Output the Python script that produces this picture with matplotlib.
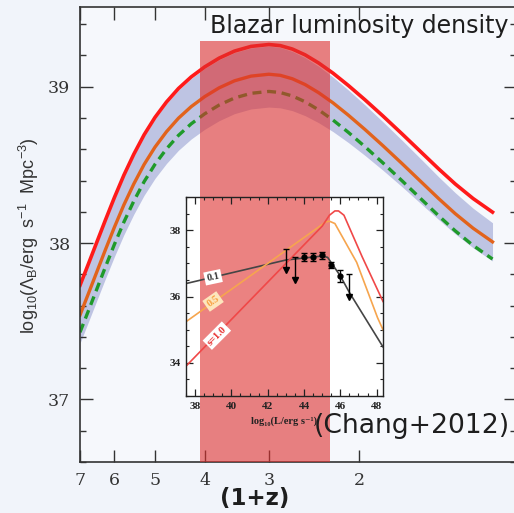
import matplotlib
matplotlib.use("Agg")
import matplotlib.pyplot as plt
from matplotlib.patches import Rectangle
from matplotlib.ticker import MultipleLocator, NullLocator

plt.rcParams['mathtext.fontset'] = 'custom'
plt.rcParams['mathtext.rm'] = 'Liberation Sans'
plt.rcParams['mathtext.it'] = 'Liberation Sans:italic'

# main panel: luminosity density vs (1+z)
one_plus_z = [7, 6.75, 6.5, 6.25, 6, 5.75, 5.5, 5.25, 5, 4.75, 4.5, 4.25, 4, 3.75, 3.5, 3.25,
              3, 2.85, 2.7, 2.55, 2.4, 2.25, 2.1, 1.95, 1.8, 1.65, 1.5, 1.4, 1.3, 1.2, 1.1]
lum_top = [37.730, 37.862, 38.001, 38.145, 38.291, 38.434, 38.568, 38.693, 38.804, 38.902,
           38.989, 39.063, 39.127, 39.183, 39.228, 39.258, 39.270, 39.263, 39.241, 39.204,
           39.152, 39.087, 39.008, 38.917, 38.814, 38.698, 38.568, 38.474, 38.378, 38.285,
           38.198]
lum_mid = [37.540, 37.672, 37.811, 37.955, 38.101, 38.244, 38.378, 38.503, 38.614, 38.712,
           38.799, 38.873, 38.937, 38.993, 39.038, 39.068, 39.080, 39.073, 39.051, 39.014,
           38.962, 38.897, 38.818, 38.727, 38.624, 38.508, 38.378, 38.284, 38.188, 38.095,
           38.008]
lum_low = [37.430, 37.562, 37.701, 37.845, 37.991, 38.134, 38.268, 38.393, 38.504, 38.602,
           38.689, 38.763, 38.827, 38.883, 38.928, 38.958, 38.970, 38.963, 38.941, 38.904,
           38.852, 38.787, 38.708, 38.617, 38.514, 38.398, 38.268, 38.174, 38.078, 37.985,
           37.898]
band_hi = [37.720, 37.852, 37.991, 38.135, 38.281, 38.424, 38.558, 38.683, 38.794, 38.892,
           38.979, 39.053, 39.117, 39.173, 39.218, 39.248, 39.260, 39.251, 39.226, 39.186,
           39.131, 39.062, 38.979, 38.884, 38.777, 38.657, 38.522, 38.423, 38.322, 38.223,
           38.130]
band_lo = [37.360, 37.491, 37.628, 37.770, 37.913, 38.053, 38.184, 38.306, 38.414, 38.509,
           38.594, 38.666, 38.728, 38.783, 38.828, 38.858, 38.870, 38.865, 38.847, 38.815,
           38.770, 38.713, 38.643, 38.561, 38.467, 38.360, 38.238, 38.150, 38.059, 37.970,
           37.886]
highlight_z = (4.09, 2.28)
highlight_top = 39.29
xticks = [7, 6, 5, 4, 3, 2]
yticks = [37, 38, 39]

# inset: luminosity function curves
lf01_x = [37.5, 43.0, 45.0, 45.3, 46.0, 46.5, 48.35]
lf01_y = [36.39, 37.10, 37.22, 37.18, 36.62, 36.12, 34.48]
lf05_x = [37.5, 44.9, 45.2, 45.4, 45.7, 46.9, 48.05, 48.35]
lf05_y = [35.24, 38.13, 38.25, 38.27, 38.20, 37.03, 35.36, 35.00]
lf10_x = [37.5, 45.0, 45.4, 45.7, 45.9, 46.2, 47.2, 48.35]
lf10_y = [33.90, 38.12, 38.45, 38.58, 38.58, 38.45, 37.20, 35.85]
pts_x = [44.0, 44.5, 45.0, 45.5, 46.0]
pts_y = [37.20, 37.18, 37.24, 36.95, 36.62]
pts_err = [0.12, 0.12, 0.10, 0.08, 0.18]
lim_x = [43.0, 43.5, 46.5]
lim_top = [37.42, 37.20, 36.67]
lim_bot = [36.80, 36.50, 35.97]

W, H = 514, 513
fig = plt.figure(figsize=(W / 100, H / 100), dpi=100, facecolor='#f1f4fa')

ax = fig.add_axes([80 / W, 1 - 462 / H, 436 / W, 455 / H], facecolor='#f6f8fc')
ax.fill_between(one_plus_z, band_lo, band_hi, color='#bec4e3', lw=0, zorder=1)
ax.plot(one_plus_z, lum_top, color='#ff1a1a', lw=2.6, zorder=2)
ax.plot(one_plus_z, lum_mid, color='#e2631c', lw=2.4, zorder=2)
ax.plot(one_plus_z, lum_low, color='#1f9a2a', lw=2.4, ls=(0, (2.7, 1.7)), zorder=2)

ax.set_xscale('log')
ax.set_xlim(7, 0.99)
ax.set_ylim(36.6, 39.51)
ax.xaxis.set_minor_locator(NullLocator())
ax.set_xticks(xticks, labels=[str(t) for t in xticks])
ax.set_yticks(yticks, labels=[str(t) for t in yticks])
ax.yaxis.set_minor_locator(MultipleLocator(0.2))
ax.tick_params(which='both', direction='in', top=True, right=True, colors='#333333',
               labelsize=12.5, pad=7)
ax.tick_params(which='major', length=9, width=1)
ax.tick_params(which='minor', length=4.5, width=1)
for lab in ax.get_xticklabels() + ax.get_yticklabels():
    lab.set_family('DejaVu Serif')
for sp in ax.spines.values():
    sp.set_color('#333333')
    sp.set_linewidth(1.2)

# white backing for the inset, then translucent red highlight
ax.add_patch(Rectangle((186 / W, 1 - 396 / H), 197 / W, 199 / H, transform=fig.transFigure,
                       facecolor='white', edgecolor='none', zorder=3, clip_on=False))
ax.add_patch(Rectangle((highlight_z[0], 36.6), highlight_z[1] - highlight_z[0],
                       highlight_top - 36.6, facecolor='#de2f2d', alpha=0.6,
                       edgecolor='none', zorder=4))

# inset
axi = fig.add_axes([186 / W, 1 - 396 / H, 197 / W, 199 / H], facecolor='none')
axi.plot(lf01_x, lf01_y, color='#454545', lw=1.2)
axi.plot(lf05_x, lf05_y, color='#f6a54e', lw=1.2)
axi.plot(lf10_x, lf10_y, color='#f04848', lw=1.2)
axi.errorbar(pts_x, pts_y, yerr=pts_err, fmt='o', color='black', ms=3.5,
             elinewidth=1, capsize=2, zorder=5)
axi.vlines(lim_x, lim_bot, lim_top, color='black', lw=1, zorder=5)
axi.plot(lim_x, lim_top, '_', color='black', ms=5, zorder=5)
axi.plot(lim_x, lim_bot, 'v', color='black', ms=4.5, zorder=5)

lbl = dict(fontsize=7.5, family=['Liberation Serif', 'DejaVu Serif'], weight='bold',
           ha='center', va='center', zorder=6)
axi.text(38.99, 36.58, '0.1', color='#333333', rotation=12,
         bbox=dict(boxstyle='square,pad=0.2', fc='white', ec='none'), **lbl)
axi.text(38.99, 35.85, '0.5', color='#f7a040', rotation=35,
         bbox=dict(boxstyle='square,pad=0.2', fc='#fde6bd', ec='none'), **lbl)
axi.text(39.2, 34.82, 's=1.0', color='#e83030', rotation=45,
         bbox=dict(boxstyle='square,pad=0.2', fc='white', ec='none'), **lbl)

axi.set_xlim(37.5, 48.35)
axi.set_ylim(33, 39)
axi.set_xticks([38, 40, 42, 44, 46, 48])
axi.set_yticks([34, 36, 38])
axi.xaxis.set_minor_locator(MultipleLocator(0.5))
axi.yaxis.set_minor_locator(MultipleLocator(0.5))
axi.tick_params(which='both', direction='in', top=True, right=True, colors='#222222',
                labelsize=8, pad=4)
axi.tick_params(which='major', length=5, width=0.9)
axi.tick_params(which='minor', length=2.5, width=0.8)
for lab in axi.get_xticklabels() + axi.get_yticklabels():
    lab.set_family('Liberation Serif')
    lab.set_weight('bold')
for sp in axi.spines.values():
    sp.set_color('#222222')
    sp.set_linewidth(1)

fig.text(284 / W, 1 - 421 / H, 'log₁₀(L/erg s⁻¹)', fontsize=7.5,
         family=['Liberation Serif', 'DejaVu Serif'], weight='bold', color='#222222',
         ha='center', va='center')

# labels and captions
fig.text(210 / W, 1 - 26 / H, 'Blazar luminosity density', fontsize=17,
         family='DejaVu Sans', color='#1e1e1e', ha='left', va='center')
fig.text(314 / W, 1 - 426 / H, '(Chang+2012)', fontsize=19.2, family='DejaVu Sans',
         color='#1e1e1e', ha='left', va='center', zorder=10)
fig.text(255 / W, 1 - 499 / H, '(1+z)', fontsize=16.5, weight='bold',
         color='#1e1e1e', ha='center', va='center')
fig.text(29 / W, 1 - 236 / H, r'$\mathrm{log_{10}(\Lambda_B/erg\ \ s^{-1}\ \ Mpc^{-3})}$',
         fontsize=13, rotation=90, color='#333333', ha='center', va='center')

fig.savefig('out.png', dpi=100, facecolor=fig.get_facecolor())
